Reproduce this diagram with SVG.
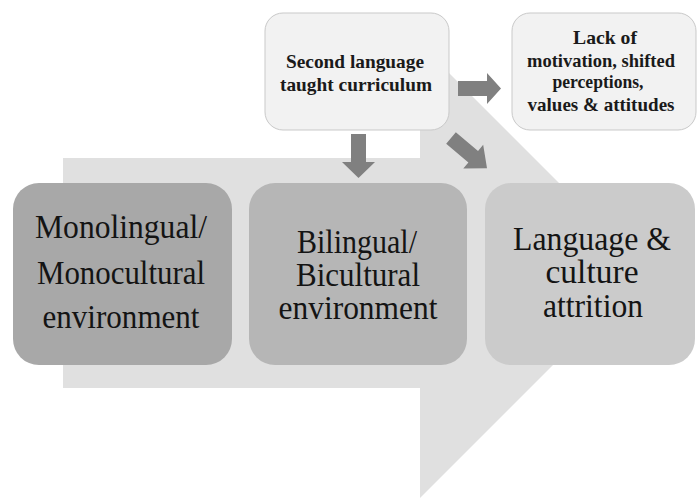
<svg xmlns="http://www.w3.org/2000/svg" width="697" height="498" viewBox="0 0 697 498">
  <style>
    .big { font-family: "Liberation Serif", "Times New Roman", serif; font-size: 33px; fill: #141414; text-anchor: middle; }
    .small { font-family: "Liberation Serif", "Times New Roman", serif; font-size: 19px; font-weight: bold; fill: #1a1a1a; text-anchor: middle; }
    .top { fill: #f2f2f2; stroke: #c9c9c9; stroke-width: 1; }
    .arrow { fill: #808080; }
  </style>

  <rect width="697" height="498" fill="#ffffff"/>

  <!-- large block arrow in the background -->
  <g id="backdrop">
    <polygon points="63,158 420,158 420,44 647,271 420,498 420,388 63,388" fill="#e0e0e0"/>
  </g>

  <!-- upper boxes -->
  <g id="curriculum">
    <rect class="top" x="265" y="13" width="184" height="117" rx="18"/>
    <text class="small" x="355" y="68" textLength="138" lengthAdjust="spacingAndGlyphs">Second language</text>
    <text class="small" x="356" y="91" textLength="152" lengthAdjust="spacingAndGlyphs">taught curriculum</text>
  </g>

  <g id="effects">
    <rect class="top" x="512" y="13" width="184" height="117" rx="18"/>
    <text class="small" x="605" y="44" textLength="64" lengthAdjust="spacingAndGlyphs">Lack of</text>
    <text class="small" x="601" y="67" textLength="148" lengthAdjust="spacingAndGlyphs">motivation, shifted</text>
    <text class="small" x="598" y="88" textLength="91" lengthAdjust="spacingAndGlyphs">perceptions,</text>
    <text class="small" x="601" y="111" textLength="147" lengthAdjust="spacingAndGlyphs">values &amp; attitudes</text>
  </g>

  <!-- main stages -->
  <g id="monolingual">
    <rect x="13" y="183" width="219" height="182" rx="26" fill="#a8a8a8"/>
    <text class="big" x="121" y="238" textLength="172" lengthAdjust="spacingAndGlyphs">Monolingual/</text>
    <text class="big" x="121" y="284" textLength="168" lengthAdjust="spacingAndGlyphs">Monocultural</text>
    <text class="big" x="121" y="328" textLength="157" lengthAdjust="spacingAndGlyphs">environment</text>
  </g>

  <g id="bilingual">
    <rect x="249" y="183" width="218" height="182" rx="26" fill="#b6b6b6"/>
    <text class="big" x="357" y="253" textLength="120" lengthAdjust="spacingAndGlyphs">Bilingual/</text>
    <text class="big" x="358" y="286" textLength="124" lengthAdjust="spacingAndGlyphs">Bicultural</text>
    <text class="big" x="358" y="319" textLength="159" lengthAdjust="spacingAndGlyphs">environment</text>
  </g>

  <g id="attrition">
    <rect x="485" y="183" width="210" height="182" rx="26" fill="#cbcbcb"/>
    <text class="big" x="592" y="250" textLength="158" lengthAdjust="spacingAndGlyphs">Language &amp;</text>
    <text class="big" x="592" y="283" textLength="93" lengthAdjust="spacingAndGlyphs">culture</text>
    <text class="big" x="593" y="317" textLength="100" lengthAdjust="spacingAndGlyphs">attrition</text>
  </g>

  <!-- connectors -->
  <g id="connectors">
    <polygon class="arrow" points="351,134 366,134 366,162 375,162 358.5,178 342,162 351,162"/>
    <polygon class="arrow" points="458,81 487,81 487,73 501,88.5 487,104 487,96 458,96"/>
    <polygon class="arrow" transform="translate(451,138) rotate(40)" points="0,-7.5 29,-7.5 29,-15.5 47,0 29,15.5 29,7.5 0,7.5"/>
  </g>
</svg>
